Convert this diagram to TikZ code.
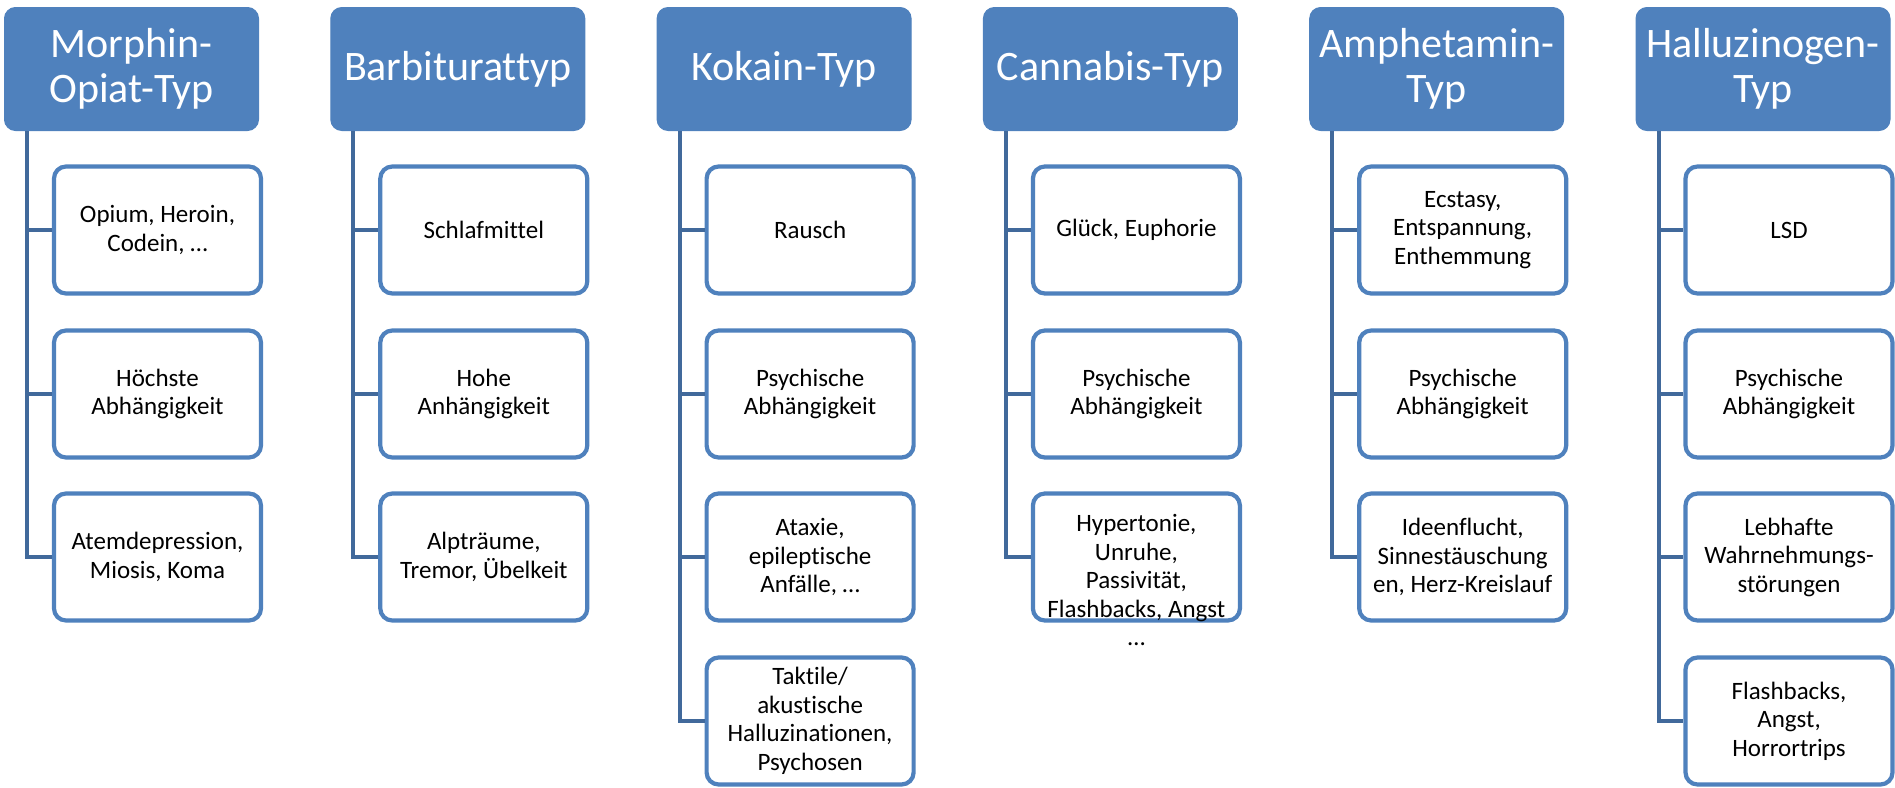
\documentclass[tikz,border=0pt]{standalone}
\usepackage{fontspec}
\setmainfont{Carlito}[Ligatures=NoCommon]
\usetikzlibrary{calc}
\definecolor{hdrblue}{HTML}{4F81BD}
\definecolor{connblue}{HTML}{41699B}
\tikzset{
  hdrbox/.style={fill=hdrblue, draw=hdrblue, line width=1pt, rounded corners=11pt,
    minimum width=254pt, minimum height=123pt, inner sep=0pt, align=center,
    text=white, font=\fontsize{42}{45}\selectfont},
  childbox/.style={draw=hdrblue, fill=white, line width=4.2pt, rounded corners=12pt,
    minimum width=207pt, minimum height=127pt, inner sep=0pt, align=center,
    text=black, font=\fontsize{25}{28.5}\selectfont},
  childtext/.style={inner sep=0pt, align=center, text=black, font=\fontsize{25}{28.5}\selectfont},
  connline/.style={draw=connblue, line width=4pt},
}
\begin{document}
\begin{tikzpicture}[x=1pt, y=-1pt]
\useasboundingbox (0,0) rectangle (1895,787);
% ---------- Column 1
\node[hdrbox] (h1) at (131.5,69) {Morphin-\\Opiat-Typ};
\node[childbox] (c11) at (157.5,230) {Opium, Heroin,\\Codein, …};
\node[childbox] (c12) at (157.5,394) {Höchste\\Abhängigkeit};
\node[childbox] (c13) at (157.5,557) {Atemdepression,\\Miosis, Koma};
% ---------- Column 2
\node[hdrbox] (h2) at (457.8,69) {Barbiturattyp};
\node[childbox] (c21) at (483.8,230) {Schlafmittel};
\node[childbox] (c22) at (483.8,394) {Hohe\\Anhängigkeit};
\node[childbox] (c23) at (483.8,557) {Alpträume,\\Tremor, Übelkeit};
% ---------- Column 3
\node[hdrbox] (h3) at (784.1,69) {Kokain-Typ};
\node[childbox] (c31) at (810.1,230) {Rausch};
\node[childbox] (c32) at (810.1,394) {Psychische\\Abhängigkeit};
\node[childbox] (c33) at (810.1,557) {Ataxie,\\epileptische\\Anfälle, …};
\node[childbox] (c34) at (810.1,721) {Taktile/\\akustische\\Halluzinationen,\\Psychosen};
% ---------- Column 4
\node[hdrbox] (h4) at (1110.4,69) {Cannabis-Typ};
\node[childbox] (c41) at (1136.4,230) {Glück, Euphorie};
\node[childbox] (c42) at (1136.4,394) {Psychische\\Abhängigkeit};
\node[childbox] (c43) at (1136.4,557) {};
\node[childtext] (t43) at ($(c43.center)+(0,23)$) {Hypertonie,\\Unruhe,\\Passivität,\\Flashbacks, Angst\\…};
% ---------- Column 5
\node[hdrbox] (h5) at (1436.7,69) {Amphetamin-\\Typ};
\node[childbox] (c51) at (1462.7,230) {Ecstasy,\\Entspannung,\\Enthemmung};
\node[childbox] (c52) at (1462.7,394) {Psychische\\Abhängigkeit};
\node[childbox] (c53) at (1462.7,557) {Ideenflucht,\\Sinnestäuschung\\en, Herz-Kreislauf};
% ---------- Column 6
\node[hdrbox] (h6) at (1763,69) {Halluzinogen-\\Typ};
\node[childbox] (c61) at (1789,230) {LSD};
\node[childbox] (c62) at (1789,394) {Psychische\\Abhängigkeit};
\node[childbox] (c63) at (1789,557) {Lebhafte\\Wahrnehmungs-\\störungen};
\node[childbox] (c64) at (1789,721) {Flashbacks,\\Angst,\\Horrortrips};
% ---------- Connectors
\foreach \h/\n in {1/3,2/3,3/4,4/3,5/3,6/4}{
  \coordinate (t\h) at ($(h\h.south west)+(23,0)$);
  \foreach \k in {1,...,\n}{
    \draw[connline] (t\h) |- (c\h\k.west);
  }
}
\end{tikzpicture}
\end{document}
